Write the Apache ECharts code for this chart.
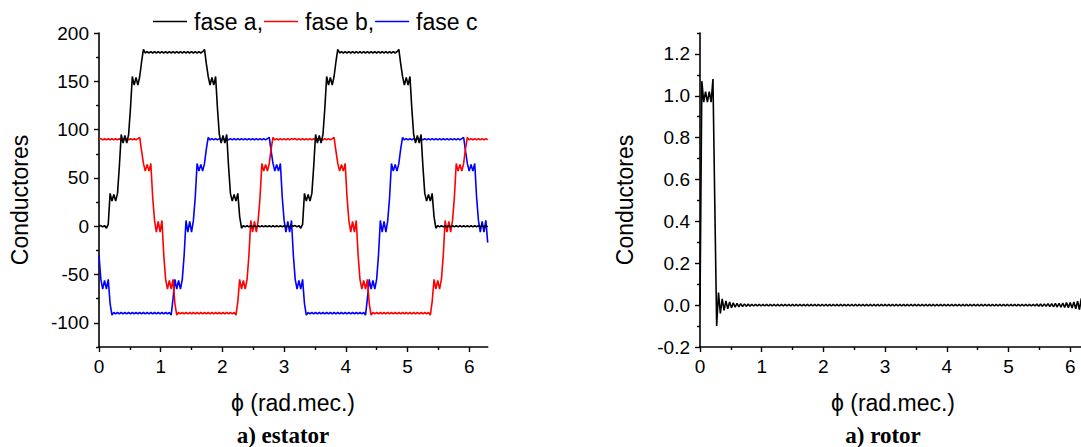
<!DOCTYPE html>
<html>
<head>
<meta charset="utf-8">
<title>Conductores</title>
<script src="https://cdn.jsdelivr.net/npm/echarts@6/dist/echarts.min.js"></script>
<style>
  html, body { margin: 0; padding: 0; background: #fff; overflow: hidden; }
  #chart { width: 1100px; height: 447px; }
</style>
</head>
<body>
<div id="chart"></div>
<script>
// Sampling step along ϕ (rad.mec.) for every series below
const PHI_STEP = 0.03;

// Tick positions
const xMajorTicks = [0, 1, 2, 3, 4, 5, 6];
const xMinorTicks = [0.5, 1.5, 2.5, 3.5, 4.5, 5.5];
const statorMajorTicks = [-100, -50, 0, 50, 100, 150, 200];
const statorMinorTicks = [-125, -75, -25, 25, 75, 125, 175];
const rotorMajorTicks = [-0.2, 0, 0.2, 0.4, 0.6, 0.8, 1.0, 1.2];
const rotorMinorTicks = [-0.1, 0.1, 0.3, 0.5, 0.7, 0.9, 1.1, 1.3];

// Series names
const phaseNames = ['fase a', 'fase b', 'fase c'];

// Stator conductors, phase a (sampled every PHI_STEP from ϕ = 0)
const faseA = [
  0, 0.7, -0.7, 0.7, -2,
  2, 34, 26, 33, 26, 34,
  62, 95, 86, 94, 86, 95,
  122, 155, 146, 154, 146, 155,
  170, 183,
  179.3, 180.7, 179.3, 180.7, 179.3, 180.7, 179.3, 180.7, 179.3, 180.7, 179.3, 180.7, 179.3, 180.7, 179.3, 180.7,
  179.3, 180.7, 179.3, 180.7, 179.3, 180.7, 179.3, 180.7, 179.3, 180.7, 179.3, 180.7, 179.3, 180.7, 179.3, 180.7,
  183, 168,
  155, 146, 154, 146, 155,
  122, 95, 86, 94, 86, 95,
  62, 34, 26, 33, 26, 34,
  10, -2,
  0.7, -0.7, 0.7, -0.7, 0.7, -0.7, 0.7, -0.7, 0.7, -0.7, 0.7, -0.7, 0.7, -0.7, 0.7, -0.7,
  0.7, -0.7, 0.7, -0.7, 0.7, -0.7, 0.7, -0.7, 0.7, -0.7, 0.7,
  0, 0.7, -0.7, 0.7, -2,
  2, 34, 26, 33, 26, 34,
  62, 95, 86, 94, 86, 95,
  122, 155, 146, 154, 146, 155,
  170, 183,
  179.3, 180.7, 179.3, 180.7, 179.3, 180.7, 179.3, 180.7, 179.3, 180.7, 179.3, 180.7, 179.3, 180.7, 179.3, 180.7,
  179.3, 180.7, 179.3, 180.7, 179.3, 180.7, 179.3, 180.7, 179.3, 180.7, 179.3, 180.7, 179.3, 180.7, 179.3, 180.7,
  183, 168,
  155, 146, 154, 146, 155,
  122, 95, 86, 94, 86, 95,
  62, 34, 26, 33, 26, 34,
  10, -2,
  0.7, -0.7, 0.7, -0.7, 0.7, -0.7, 0.7, -0.7, 0.7, -0.7, 0.7, -0.7, 0.7, -0.7, 0.7, -0.7,
  0.7, -0.7, 0.7, -0.7, 0.7, -0.7, 0.7, -0.7, 0.7, -0.7, 0.7, -0.7
];

// Stator conductors, phase b
const faseB = [
  90, 90.7, 89.3, 90.7, 89.3, 90.7, 89.3, 90.7, 89.3, 90.7, 89.3, 90.7, 89.3, 90.7, 89.3, 90.7, 89.3, 90.7, 89.3, 90.7, 89.3, 90.7,
  92, 78,
  65, 57, 64, 57, 65,
  30, 6, -6, 5, -6, 6,
  -30, -55, -65, -56, -65, -55,
  -80, -92,
  -89.3, -90.7, -89.3, -90.7, -89.3, -90.7, -89.3, -90.7, -89.3, -90.7, -89.3, -90.7, -89.3, -90.7, -89.3, -90.7,
  -89.3, -90.7, -89.3, -90.7, -89.3, -90.7, -89.3, -90.7, -89.3, -90.7, -89.3, -90.7, -89.3, -90.7, -89.3,
  -92, -78,
  -55, -65, -56, -65, -55,
  -30, 6, -6, 5, -6, 6,
  30, 65, 57, 64, 57, 65,
  80, 92,
  89.3, 90.7, 89.3, 90.7, 89.3, 90.7, 89.3, 90.7, 89.3, 90.7,
  90, 90.7, 89.3, 90.7, 89.3, 90.7, 89.3, 90.7, 89.3, 90.7, 89.3, 90.7, 89.3, 90.7, 89.3, 90.7, 89.3, 90.7, 89.3, 90.7, 89.3, 90.7,
  92, 78,
  65, 57, 64, 57, 65,
  30, 6, -6, 5, -6, 6,
  -30, -55, -65, -56, -65, -55,
  -80, -92,
  -89.3, -90.7, -89.3, -90.7, -89.3, -90.7, -89.3, -90.7, -89.3, -90.7, -89.3, -90.7, -89.3, -90.7, -89.3, -90.7,
  -89.3, -90.7, -89.3, -90.7, -89.3, -90.7, -89.3, -90.7, -89.3, -90.7, -89.3, -90.7, -89.3, -90.7, -89.3,
  -92, -78,
  -55, -65, -56, -65, -55,
  -30, 6, -6, 5, -6, 6,
  30, 65, 57, 64, 57, 65,
  80, 92,
  89.3, 90.7, 89.3, 90.7, 89.3, 90.7, 89.3, 90.7, 89.3, 90.7, 89.3
];

// Stator conductors, phase c
const faseC = [
  -30, -55, -65, -56, -65, -55,
  -80, -92,
  -89.3, -90.7, -89.3, -90.7, -89.3, -90.7, -89.3, -90.7, -89.3, -90.7, -89.3, -90.7, -89.3, -90.7, -89.3, -90.7,
  -89.3, -90.7, -89.3, -90.7, -89.3, -90.7, -89.3, -90.7, -89.3, -90.7, -89.3, -90.7, -89.3, -90.7, -89.3,
  -92, -75,
  -55, -65, -56, -65, -55,
  -30, 6, -6, 5, -6, 6,
  30, 65, 57, 64, 57, 65,
  80, 92,
  89.3, 90.7, 89.3, 90.7, 89.3, 90.7, 89.3, 90.7, 89.3, 90.7, 89.3, 90.7, 89.3, 90.7, 89.3, 90.7,
  89.3, 90.7, 89.3, 90.7, 89.3, 90.7, 89.3, 90.7, 89.3, 90.7, 89.3, 90.7, 89.3, 90.7, 89.3, 90.7,
  92, 78,
  65, 57, 64, 57, 65,
  30, 6, -6, 5, -6, 6,
  -30, -55, -65, -56, -65, -55,
  -80, -92,
  -89.3, -90.7, -89.3, -90.7, -89.3, -90.7, -89.3, -90.7, -89.3, -90.7, -89.3, -90.7, -89.3, -90.7, -89.3, -90.7,
  -89.3, -90.7, -89.3, -90.7, -89.3, -90.7, -89.3, -90.7, -89.3, -90.7, -89.3, -90.7, -89.3, -90.7, -89.3,
  -92, -75,
  -55, -65, -56, -65, -55,
  -30, 6, -6, 5, -6, 6,
  30, 65, 57, 64, 57, 65,
  80, 92,
  89.3, 90.7, 89.3, 90.7, 89.3, 90.7, 89.3, 90.7, 89.3, 90.7, 89.3, 90.7, 89.3, 90.7, 89.3, 90.7,
  89.3, 90.7, 89.3, 90.7, 89.3, 90.7, 89.3, 90.7, 89.3, 90.7, 89.3, 90.7, 89.3, 90.7, 89.3, 90.7,
  92, 78,
  65, 57, 64, 57, 65,
  30, 6, -6, 5, -6, 6,
  -17
];

// Rotor conductors
const rotor = [
  0, 1.07, 0.97, 1.02, 0.97, 1.02, 0.97, 1.08,
  0.48, -0.10,
  0.06, -0.04, 0.03, -0.025, 0.02, -0.018, 0.015, -0.013, 0.011, -0.01,
  0.009, -0.008, 0.007, -0.007, 0.006, -0.006, 0.005, -0.005,
  0.004, -0.004, 0.004, -0.004, 0.004, -0.004, 0.004, -0.004,
  0.004, -0.004, 0.004, -0.004, 0.004, -0.004, 0.004, -0.004,
  0.004, -0.004, 0.004, -0.004, 0.004, -0.004, 0.004, -0.004,
  0.004, -0.004, 0.004, -0.004, 0.004, -0.004, 0.004, -0.004,
  0.004, -0.004, 0.004, -0.004, 0.004, -0.004, 0.004, -0.004,
  0.004, -0.004, 0.004, -0.004, 0.004, -0.004, 0.004, -0.004,
  0.004, -0.004, 0.004, -0.004, 0.004, -0.004, 0.004, -0.004,
  0.004, -0.004, 0.004, -0.004, 0.004, -0.004, 0.004, -0.004,
  0.004, -0.004, 0.004, -0.004, 0.004, -0.004, 0.004, -0.004,
  0.004, -0.004, 0.004, -0.004, 0.004, -0.004, 0.004, -0.004,
  0.004, -0.004, 0.004, -0.004, 0.004, -0.004, 0.004, -0.004,
  0.004, -0.004, 0.004, -0.004, 0.004, -0.004, 0.004, -0.004,
  0.004, -0.004, 0.004, -0.004, 0.004, -0.004, 0.004, -0.004,
  0.004, -0.004, 0.004, -0.004, 0.004, -0.004, 0.004, -0.004,
  0.004, -0.004, 0.004, -0.004, 0.004, -0.004, 0.004, -0.004,
  0.004, -0.004, 0.004, -0.004, 0.004, -0.004, 0.004, -0.004,
  0.004, -0.004, 0.004, -0.004, 0.004, -0.004, 0.004, -0.004,
  0.004, -0.004, 0.004, -0.004, 0.004, -0.004, 0.004, -0.004,
  0.004, -0.004, 0.004, -0.004, 0.004, -0.004, 0.004, -0.004,
  0.004, -0.004, 0.005, -0.005, 0.005, -0.006, 0.006, -0.006, 0.007, -0.007,
  0.007, -0.008, 0.008, -0.009, 0.009, -0.01, 0.01, -0.011, 0.012, -0.012,
  0.013, -0.014, 0.015, -0.017, 0.019, -0.022, 0.032, -0.035, 0.05, -0.08, 0.3
];

const toPoints = vals => vals.map((v, i) => [Math.round(i * PHI_STEP * 100) / 100, v]);

const SANS = '"Liberation Sans", Arial, sans-serif';
const SERIF = '"Liberation Serif", "Times New Roman", serif';
const AXIS_COLOR = '#000';
const TICK_FONT = 19;

function mainX(gridIndex) {
  return {
    gridIndex, type: 'value', min: 0, max: 6.3, position: 'bottom',
    axisLine: { show: true, onZero: false, lineStyle: { color: AXIS_COLOR, width: 1.6 } },
    axisTick: { show: true, customValues: xMajorTicks, length: 5, lineStyle: { color: AXIS_COLOR, width: 1.4 } },
    axisLabel: { customValues: xMajorTicks, margin: 10, color: '#000', fontSize: TICK_FONT, fontFamily: SANS },
    splitLine: { show: false }
  };
}
function minorX(gridIndex) {
  return {
    gridIndex, type: 'value', min: 0, max: 6.3, position: 'bottom',
    axisLine: { show: false, onZero: false },
    axisTick: { show: true, customValues: xMinorTicks, length: 3, lineStyle: { color: AXIS_COLOR, width: 1.4 } },
    axisLabel: { show: false },
    splitLine: { show: false }
  };
}
function mainY(gridIndex, min, max, majors, fmt) {
  return {
    gridIndex, type: 'value', min, max, position: 'left',
    axisLine: { show: true, onZero: false, lineStyle: { color: AXIS_COLOR, width: 1.6 } },
    axisTick: { show: true, customValues: majors, length: 5, lineStyle: { color: AXIS_COLOR, width: 1.4 } },
    axisLabel: { customValues: majors, margin: 10, color: '#000', fontSize: TICK_FONT, fontFamily: SANS, formatter: fmt },
    splitLine: { show: false }
  };
}
function minorY(gridIndex, min, max, minors) {
  return {
    gridIndex, type: 'value', min, max, position: 'left',
    axisLine: { show: false, onZero: false },
    axisTick: { show: true, customValues: minors, length: 3, lineStyle: { color: AXIS_COLOR, width: 1.4 } },
    axisLabel: { show: false },
    splitLine: { show: false }
  };
}

function label(text, x, y, font, rotation) {
  return {
    type: 'text', x, y, rotation: rotation || 0,
    style: { text, fill: '#000', font, textAlign: 'center', textVerticalAlign: 'middle' }
  };
}

const chart = echarts.init(document.getElementById('chart'), null, { renderer: 'svg' });

chart.setOption({
  animation: false,
  backgroundColor: '#fff',
  grid: [
    { left: 99, top: 33, width: 388.7, bottom: 100, containLabel: false },
    { left: 700, top: 33, width: 388.7, bottom: 100, containLabel: false }
  ],
  legend: {
    data: phaseNames,
    left: 148, top: 5,
    icon: 'rect',
    itemWidth: 34, itemHeight: 1.5, itemGap: 1,
    textStyle: { color: '#000', fontSize: 23, fontFamily: SANS, padding: [0, 0, 0, 2] },
    formatter: name => (name === phaseNames[2] ? name : name + ',')
  },
  xAxis: [mainX(0), minorX(0), mainX(1), minorX(1)],
  yAxis: [
    mainY(0, -125, 200, statorMajorTicks, v => String(v)),
    minorY(0, -125, 200, statorMinorTicks),
    mainY(1, -0.2, 1.3, rotorMajorTicks, v => Number(v).toFixed(1)),
    minorY(1, -0.2, 1.3, rotorMinorTicks)
  ],
  series: [
    { name: phaseNames[2], type: 'line', xAxisIndex: 0, yAxisIndex: 0, data: toPoints(faseC),
      showSymbol: false, symbol: 'none', z: 2, lineStyle: { color: '#0000ff', width: 1.6 }, itemStyle: { color: '#0000ff' } },
    { name: phaseNames[1], type: 'line', xAxisIndex: 0, yAxisIndex: 0, data: toPoints(faseB),
      showSymbol: false, symbol: 'none', z: 3, lineStyle: { color: '#ff0000', width: 1.6 }, itemStyle: { color: '#ff0000' } },
    { name: phaseNames[0], type: 'line', xAxisIndex: 0, yAxisIndex: 0, data: toPoints(faseA),
      showSymbol: false, symbol: 'none', z: 4, lineStyle: { color: '#000000', width: 1.6 }, itemStyle: { color: '#000000' } },
    { name: 'rotor', type: 'line', xAxisIndex: 2, yAxisIndex: 2, data: toPoints(rotor),
      showSymbol: false, symbol: 'none', lineStyle: { color: '#000000', width: 1.6 }, itemStyle: { color: '#000000' } }
  ],
  graphic: [
    label('Conductores', 20, 200, '23px ' + SANS, Math.PI / 2),
    label('ϕ (rad.mec.)', 293, 403, '23px ' + SANS),
    label('a) estator', 283, 435, 'bold 23px ' + SERIF),
    label('Conductores', 625, 200, '23px ' + SANS, Math.PI / 2),
    label('ϕ (rad.mec.)', 893, 403, '23px ' + SANS),
    label('a) rotor', 883, 435, 'bold 23px ' + SERIF)
  ]
});
</script>
</body>
</html>
